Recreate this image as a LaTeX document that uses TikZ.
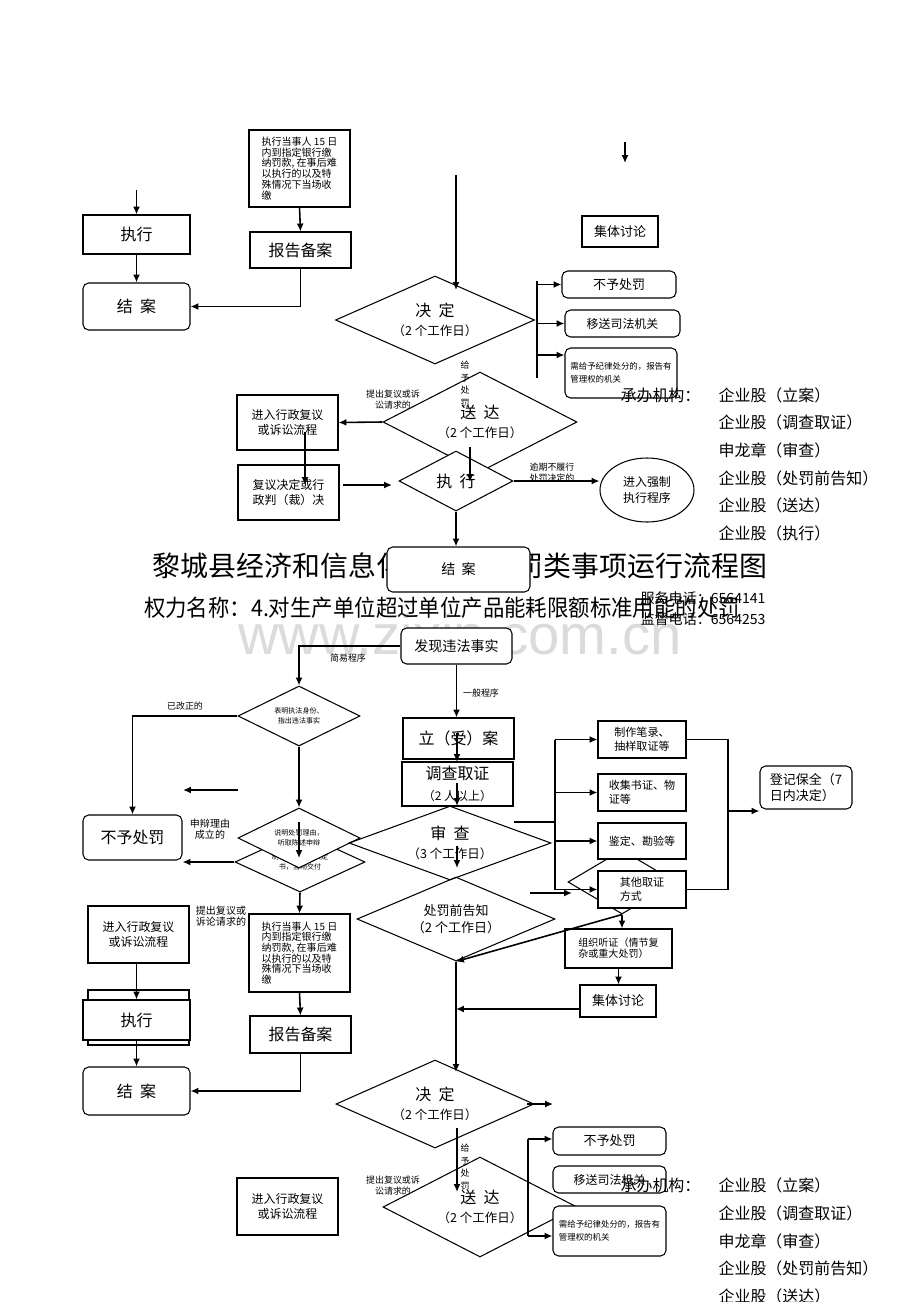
\documentclass[tikz,border=0pt]{standalone}
\usepackage{fontspec}
\setmainfont{Noto Sans CJK SC}
\newfontfamily\wmfont{Liberation Sans}
\usetikzlibrary{arrows.meta,positioning,shapes.geometric}
\newcommand\daytxt{\fontsize{7.1}{9}\selectfont}
\tikzset{>={Latex[length=4.5pt,width=4pt]}}
\tikzset{
    wh/.style 2 args={minimum width=#1*0.02cm,minimum height=#2*0.02cm},
    box/.style={draw,rectangle,fill=white,inner sep=0pt,align=center},
    rbox/.style={box,rounded corners=3.2pt},
    dmd/.style={draw,diamond,inner sep=0pt,align=center},
    lbl/.style={inner sep=0pt,align=center},
    flow/.style={->,line width=0.9pt},
    t28/.style={font=\fontsize{15.9}{18}\selectfont},
    t23/.style={font=\fontsize{13.1}{15}\selectfont},
    t16/.style={font=\fontsize{9.1}{11}\selectfont},
    t14/.style={font=\fontsize{8}{10}\selectfont},
    t13/.style={font=\fontsize{7.4}{9.6}\selectfont},
    t12/.style={font=\fontsize{6.8}{8.6}\selectfont},
    t11/.style={font=\fontsize{6.3}{8}\selectfont},
    t10/.style={font=\fontsize{5.7}{6.1}\selectfont},
    t9/.style={font=\fontsize{5.1}{6.3}\selectfont},
    t8/.style={font=\fontsize{4.8}{7.5}\selectfont},
    t7/.style={font=\fontsize{4}{5.6}\selectfont},
    vert/.style={font=\fontsize{5.1}{7.1}\selectfont,inner sep=0pt,align=center}
}

\begin{document}
\begin{tikzpicture}[x=0.02cm,y=-0.02cm,line width=0.6pt]
\useasboundingbox (0,0) rectangle (920,1302);
\node[text=black!14,font=\wmfont\fontsize{32}{32}\selectfont] (wm) at (460,634) {www.zixin.com.cn};

% upper copy
\node[box,wh={101}{77},t10,align=left] (tjk) at (299.5,168.5) {执行当事人 15 日\\内到指定银行缴\\纳罚款, 在事后难\\以执行的以及特\\殊情况下当场收\\缴};
\node[box,wh={101}{36},t16] (tbaogao) at (300.5,250) {报告备案};
\node[box,wh={107}{39},t16] (tzhixing) at (136.5,234.5) {执行};
\node[rbox,wh={107}{47},t16] (tjiean) at (136.5,306.5) {结\ \ 案};
\coordinate (tin) at (136.5,190);
\draw[flow] (tin) -- (tzhixing.north);
\draw[flow] (tzhixing.south) -- (tjiean.north);
\draw[flow] (tjk.south) -- (tbaogao.north);
\draw[flow] (tbaogao.south) |- (tjiean.east);

\node[dmd,aspect=2.26,wh={199}{88},t16] (tjueding) at (435,320) {决\ \ 定\\\daytxt（2 个工作日）};
\coordinate (ttop) at (456,175);
\coordinate (tdin) at (456,290);
\draw[flow] (ttop) -- (tdin);
\coordinate (tfa) at (625,142);
\coordinate (tfb) at (625,163);
\draw[flow] (tfa) -- (tfb);
\node[box,wh={76}{31},t13] (tjiti) at (620,231.5) {集体讨论};
\node[rbox,wh={114}{27},t13] (tbuyu) at (619,284.5) {不予处罚};
\node[rbox,wh={115}{27},t12] (tyisong) at (622.5,323.5) {移送司法机关};
\node[rbox,wh={112}{50},t8,align=left] (tjilv) at (621,373) {需给予纪律处分的，报告有\\管理权的机关};
\coordinate (tb1) at (537,281);
\coordinate (tb2) at (537,378);
\coordinate (tb3) at (537,355);
\draw (tb1) -- (tb2);
\draw[flow] (tb1 |- tbuyu.west) -- (tbuyu.west);
\draw[flow] (tb1 |- tyisong.west) -- (tyisong.west);
\draw[flow] (tb3) -- (tb3 -| tjilv.west);

\node[dmd,aspect=1.94,wh={194}{100},t16] (tsongda) at (480,422) {送\ \ 达\\\daytxt（2 个工作日）};
\node[vert] (tgive) at (465,384) {给\\予\\处\\罚};
\node[box,wh={101}{55},t12] (tfuyi) at (287.5,422.5) {进入行政复议\\或诉讼流程};
\node[lbl,t9] (tti) at (393,400) {提出复议或诉\\讼请求的};
\draw[flow] (tsongda.west) -- (tfuyi.east);
\node[box,wh={101}{55},t12,align=left] (tfy2) at (288.5,492.5) {复议决定或行\\政判（裁）决};
\coordinate (ta) at (305,432);
\coordinate (tb) at (305,485);
\draw[flow] (ta) -- (tb);
\node[dmd,fill=white,aspect=1.9,wh={114}{60},t16] (tzx) at (456,481) {执\ \ 行};
\coordinate (tc) at (343,485);
\coordinate (td) at (392,485);
\draw[flow] (tc) -- (td);
\coordinate (te) at (470,447);
\coordinate (tf) at (470,482);
\draw[flow] (te) -- (tf);
\node[draw,ellipse,wh={94}{64},inner sep=0pt,t12,align=center] (tqz) at (647,490) {进入强制\\执行程序};
\draw[flow] (tzx.east) -- (tzx.east -| tqz.west);
\node[lbl,t9] (tyq) at (552,473) {逾期不履行\\处罚决定的};

\node[lbl,t16,anchor=west] (torg) at (620,395) {承办机构：};
\foreach \y/\t [count=\i] in {395/企业股（立案）,422/企业股（调查取证）,450/申龙章（审查）,478/企业股（处罚前告知）,505/企业股（送达）,533/企业股（执行）}
    \node[lbl,t16,anchor=west] (tu\i) at (718,\y) {\t};

% title lines
\node[lbl,t28] (title) at (460,566) {黎城县经济和信息化局行政处罚类事项运行流程图};
\node[rbox,wh={143}{45},t14] (tjiean2) at (458.5,569.5) {结\ \ 案};
\draw[flow] (tzx.south) -- (tzx.south |- tjiean2.north);
\node[lbl,t23] (power) at (442,608) {\scalebox{0.93}[1]{权力名称：4.对生产单位超过单位产品能耗限额标准用能的处罚}};
\node[lbl,t14,anchor=east] (tel1) at (766,598) {服务电话：6564141};
\node[lbl,t14,anchor=east] (tel2) at (766,619) {监督电话：6564253};

% lower copy
\node[rbox,wh={111}{36},t14] (faxian) at (456.5,646) {发现违法事实};
\node[dmd,aspect=2,wh={122}{60},t7] (d1) at (299,716) {表明执法身份、\\指出违法事实};
\draw[flow] (faxian.west) -| (d1.north);
\node[lbl,t9] (jy) at (348,658) {简易程序};
\node[box,wh={111}{41},t16] (lian) at (458.5,738.5) {立（受）案};
\draw[flow] (faxian.south) -- (faxian.south |- lian.north);
\node[lbl,t9] (yb) at (481,693) {一般程序};
\node[rbox,wh={99}{45},t16] (buyu2) at (132.5,837.5) {不予处罚};
\draw[flow] (d1.west) -| (buyu2.north);
\node[lbl,t9] (ygz) at (185,706) {已改正的};
\coordinate (la) at (238,790);
\coordinate (lb) at (183,790);
\draw[flow] (la) -- (lb);
\node[dmd,aspect=2.17,wh={130}{60},t7] (d3) at (300,862) {制作当场处罚决定\\书，当场交付};
\node[dmd,fill=white,aspect=2,wh={122}{60},t7] (d2) at (299,838) {说明处罚理由，\\听取陈述申辩};
\draw[flow] (d1.south) -- (d2.north);
\coordinate (lc) at (299,822);
\coordinate (ld) at (299,858);
\draw[flow] (lc) -- (ld);
\node[lbl,t10] (sb) at (210,829) {申辩理由\\成立的};
\draw[flow] (d3.west) -- (d3.west -| buyu2.east);

\node[box,wh={111}{44}] (diaocha) at (457.5,784) {\fontsize{9.1}{11}\selectfont 调查取证\\\fontsize{6.8}{8}\selectfont（2 人以上）};
\node[dmd,aspect=2.73,wh={202}{74},t16] (shencha) at (450,843) {审\ \ 查\\\daytxt（3 个工作日）};
\node[dmd,aspect=2.36,wh={198}{84},t13] (gaozhi) at (456,919) {处罚前告知\\（2 个工作日）};
\coordinate (le) at (457,733);
\coordinate (lf) at (457,762);
\coordinate (lg) at (457,783);
\coordinate (lh) at (457,806);
\coordinate (li) at (457,846);
\coordinate (lj) at (457,868);
\draw[flow] (le) -- (lf);
\draw[flow] (lg) -- (lh);
\draw[flow] (li) -- (lj);

\node[box,wh={101}{78},t10,align=left] (jk2) at (299.5,953) {执行当事人 15 日\\内到指定银行缴\\纳罚款, 在事后难\\以执行的以及特\\殊情况下当场收\\缴};
\draw[flow] (d3.south) -- (jk2.north);
\node[lbl,t10] (tcfy) at (221,916) {提出复议或\\诉论请求的};
\node[box,wh={101}{37},t16] (baogao2) at (300.5,1034.5) {报告备案};
\draw[flow] (jk2.south) -- (baogao2.north);
\node[box,wh={101}{57},t12] (fuyi2) at (138.5,934.5) {进入行政复议\\或诉讼流程};
\node[box,wh={101}{55}] (bback) at (138.5,1017.5) {};
\node[box,wh={107}{40},t16] (zhixing2) at (136.5,1020) {执行};
\node[rbox,wh={107}{48},t16] (jiean3) at (136.5,1091) {结\ \ 案};
\draw[flow] (fuyi2.south -| zhixing2.north) -- (zhixing2.north);
\draw[flow] (zhixing2.south) -- (jiean3.north);
\draw[flow] (baogao2.south) |- (jiean3.east);

\node[box,wh={88}{37},t11,align=left] (zhizuo) at (642,739.5) {制作笔录、\\抽样取证等};
\node[box,wh={88}{37},t11,align=left] (shouji) at (642,792.5) {收集书证、物\\证等};
\node[dmd,aspect=1.69,wh={108}{64}] (hd) at (622,882) {};
\node[box,wh={88}{36},t11] (jianding) at (642,841) {鉴定、勘验等};
\node[box,wh={88}{37},t11,align=left] (qita) at (642,889.5) {其他取证\\方式};
\coordinate (br) at (555,822);
\draw (diaocha.east |- br) -- (br);
\draw (br |- zhizuo.west) -- (br |- qita.west);
\foreach \n in {zhizuo,shouji,jianding,qita}
    \draw[flow] (br |- \n.west) -- (\n.west);
\coordinate (lk) at (530,893);
\coordinate (ll) at (572,893);
\draw[flow] (lk) -- (ll);
\node[rbox,wh={92}{43},t13,align=left] (dengji) at (806,787.5) {登记保全（7\\日内决定）};
\coordinate (mg) at (728,811);
\draw (zhizuo.east) -- (zhizuo.east -| mg) -- (qita.east -| mg) -- (qita.east);
\draw[flow] (mg) -- (mg -| dengji.west);

\node[box,wh={107}{39},t10,align=left] (tingzheng) at (618.5,948.5) {组织听证（情节复\\杂或重大处罚）};
\draw[flow] (hd.south) -- (hd.south |- tingzheng.north);
\draw[flow] (hd.south) -- (gaozhi.south);
\node[box,wh={76}{32},t13] (jiti2) at (618,1001) {集体讨论};
\draw[flow] (tingzheng.south) -- (tingzheng.south |- jiti2.north);
\coordinate (jt) at (580,1009);
\draw[flow] (jt) -- (jt -| gaozhi.south);
\coordinate (jd) at (456,1072);
\draw[flow] (gaozhi.south) -- (jd);

\node[dmd,aspect=2.26,wh={198}{88},t16] (jueding3) at (435,1104) {决\ \ 定\\\daytxt（2 个工作日）};
\coordinate (lm) at (527,1104);
\coordinate (ln) at (553,1104);
\draw[flow] (lm) -- (ln);
\node[dmd,aspect=1.94,wh={194}{100},t16] (songda2) at (480,1207) {送\ \ 达\\\daytxt（2 个工作日）};
\coordinate (lo) at (457,1128);
\coordinate (lp) at (457,1192);
\draw[flow] (lo) -- (lp);
\node[vert] (give2) at (465,1167) {给\\予\\处\\罚};
\node[lbl,t9] (tti2) at (393,1186) {提出复议或诉\\讼请求的};
\node[box,wh={101}{57},t12] (fuyi3) at (287.5,1206.5) {进入行政复议\\或诉讼流程};
\node[rbox,wh={113}{28},t13] (buyu3) at (609.5,1141) {不予处罚};
\node[rbox,wh={113}{27},t12] (yisong3) at (609.5,1179.5) {移送司法机关};
\node[rbox,wh={113}{50},t8,align=left] (jilv3) at (609.5,1231) {需给予纪律处分的，报告有\\管理权的机关};
\coordinate (bb1) at (528,1139);
\coordinate (bb2) at (528,1236);
\draw (bb1) -- (bb2);
\draw[flow] (bb1) -- (bb1 -| buyu3.west);
\draw[flow] (bb2) -- (bb2 -| jilv3.west);

\node[lbl,t16,anchor=west] (org2) at (620,1185) {承办机构：};
\foreach \y/\t [count=\i] in {1185/企业股（立案）,1213/企业股（调查取证）,1241/申龙章（审查）,1268/企业股（处罚前告知）,1296/企业股（送达）}
    \node[lbl,t16,anchor=west] (bu\i) at (718,\y) {\t};
\end{tikzpicture}
\end{document}
